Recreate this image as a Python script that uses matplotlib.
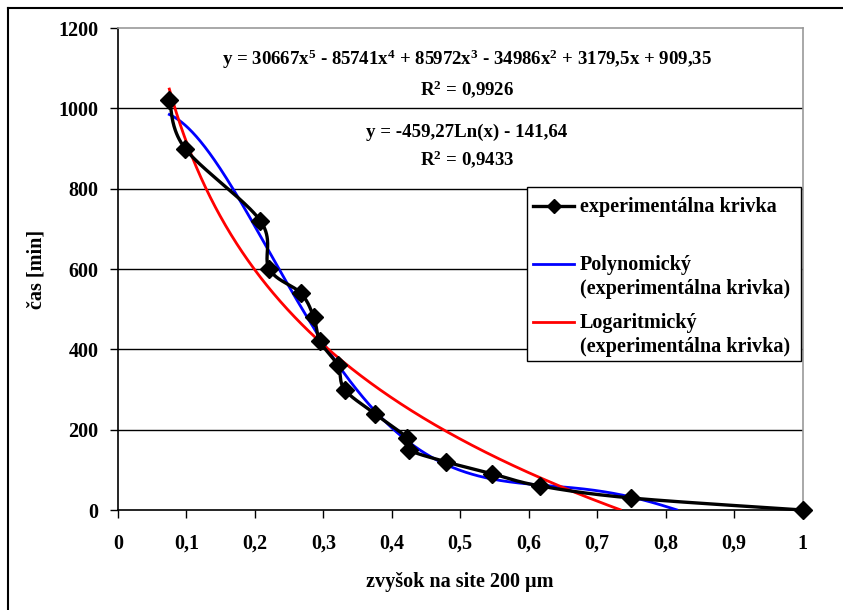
import numpy as np
import matplotlib
matplotlib.use("Agg")
import matplotlib.pyplot as plt
from matplotlib.lines import Line2D
from matplotlib.patches import Rectangle

plt.rcParams['font.family'] = ['Liberation Serif', 'DejaVu Serif']
plt.rcParams['font.weight'] = 'bold'
plt.rcParams['mathtext.fontset'] = 'custom'
plt.rcParams['mathtext.rm'] = 'Liberation Serif:bold'
plt.rcParams['mathtext.bf'] = 'Liberation Serif:bold'
plt.rcParams['mathtext.it'] = 'Liberation Serif:bold'
plt.rcParams['mathtext.default'] = 'bf'

# ---- data ----
zvysok = [0.075, 0.098, 0.208, 0.221, 0.267, 0.286, 0.295, 0.321, 0.331,
          0.375, 0.422, 0.425, 0.479, 0.547, 0.616, 0.749, 1.0]
cas = [1020, 900, 720, 600, 540, 480, 420, 360, 300,
       240, 180, 150, 120, 90, 60, 30, 0]
poly_coef = [30667, -85741, 85972, -34986, 3179.5, 909.35]   # x^5 ... x^0
log_coef = [-459.27, -141.64]                                 # a*ln(x) + b
x_ticks = [0, 0.1, 0.2, 0.3, 0.4, 0.5, 0.6, 0.7, 0.8, 0.9, 1.0]
x_tick_labels = ['0', '0,1', '0,2', '0,3', '0,4', '0,5', '0,6', '0,7', '0,8', '0,9', '1']
y_ticks = [0, 200, 400, 600, 800, 1000, 1200]
legend_labels = ['experimentálna krivka',
                 'Polynomický\n(experimentálna krivka)',
                 'Logaritmický\n(experimentálna krivka)']

W, H = 843, 610
fig = plt.figure(figsize=(W / 100, H / 100), dpi=100)
L, R, T, B = 118, 802.5, 28, 510
ax = fig.add_axes([L / W, 1 - B / H, (R - L) / W, (B - T) / H])
ax.set_xlim(0, 1)
ax.set_ylim(0, 1200)

FS = 14.5
FS_EQ = 13.6

# gridlines
for yt in y_ticks[1:-1]:
    ax.axhline(yt, color='black', lw=1.0, zorder=1)

# trendlines
xs = np.linspace(min(zvysok), max(zvysok), 800)
yp = np.polyval(poly_coef, xs)
yl = log_coef[0] * np.log(xs) + log_coef[1]
ax.plot(xs, np.where(yp >= 0, yp, np.nan), color='#0000FF', lw=2.0, zorder=3)
ax.plot(xs, np.where(yl >= 0, yl, np.nan), color='#FF0000', lw=2.0, zorder=3)

# smoothed experimental curve (Excel-like Bezier smoothing in screen space)
sx = (R - L) / 1.0
sy = (B - T) / 1200.0
P = np.column_stack([np.array(zvysok) * sx, np.array(cas) * sy])
n = len(P)
curve = []
for i in range(n - 1):
    p0 = P[i - 1] if i > 0 else P[i]
    p1 = P[i]
    p2 = P[i + 1]
    p3 = P[i + 2] if i + 2 < n else P[i + 1]
    c1 = p1 + (p2 - p0) / 6.0
    c2 = p2 - (p3 - p1) / 6.0
    t = np.linspace(0, 1, 40)[:, None]
    seg = ((1 - t) ** 3) * p1 + 3 * ((1 - t) ** 2) * t * c1 + 3 * (1 - t) * t ** 2 * c2 + t ** 3 * p2
    curve.append(seg)
curve = np.vstack(curve)
ax.plot(curve[:, 0] / sx, curve[:, 1] / sy, color='black', lw=2.4, zorder=4,
        clip_on=False)
ax.plot(zvysok, cas, linestyle='none', marker='D', markersize=9,
        color='black', zorder=5, clip_on=False)

# axes styling
ax.set_xticks(x_ticks)
ax.set_xticklabels(x_tick_labels)
ax.set_yticks(y_ticks)
ax.tick_params(axis='both', direction='out', length=6, width=1, color='black',
               labelsize=FS)
ax.tick_params(axis='x', pad=11)
ax.tick_params(axis='y', pad=8)
for lab in ax.get_xticklabels() + ax.get_yticklabels():
    lab.set_fontweight('bold')
ax.spines['left'].set_color('black')
ax.spines['bottom'].set_color('black')
ax.spines['top'].set_color('#999999')
ax.spines['right'].set_color('#999999')
for s in ax.spines.values():
    s.set_linewidth(1.2)

ax.set_xlabel('zvyšok na site 200 µm', fontsize=FS, fontweight='bold')
ax.set_ylabel('čas [min]', fontsize=FS, fontweight='bold')
ax.xaxis.set_label_coords(0.5, -(572 - B) / (B - T))
ax.yaxis.set_label_coords(-(L - 46) / (R - L), 0.5)


def ft(x, y, s, fs=FS, **kw):
    fig.text(x / W, 1 - y / H, s, fontsize=fs, fontweight='bold',
             ha=kw.pop('ha', 'center'), va=kw.pop('va', 'center'), **kw)


# equations
ft(467, 59, 'y = 30667x$^{5}$ - 85741x$^{4}$ + 85972x$^{3}$ - 34986x$^{2}$ + 3179,5x + 909,35', FS_EQ)
ft(467, 89, 'R$^{2}$ = 0,9926', FS_EQ)
ft(467, 132, 'y = -459,27Ln(x) - 141,64', FS_EQ)
ft(467, 159, 'R$^{2}$ = 0,9433', FS_EQ)

# legend (drawn manually to mimic Excel layout)
lx0, ly0, lx1, ly1 = 527, 187, 801, 361
fig.add_artist(Rectangle((lx0 / W, 1 - ly1 / H), (lx1 - lx0) / W, (ly1 - ly0) / H,
                         transform=fig.transFigure, facecolor='white',
                         edgecolor='black', lw=1.0, zorder=10))
hx0, hx1, tx = 533, 574, 580
rows = [(206, 'black', True, legend_labels[0]),
        (264, '#0000FF', False, legend_labels[1]),
        (322, '#FF0000', False, legend_labels[2])]
for yy, col, mk, lab in rows:
    fig.add_artist(Line2D([hx0 / W, hx1 / W], [1 - yy / H, 1 - yy / H],
                          transform=fig.transFigure, color=col,
                          lw=2.4 if mk else 2.0, zorder=11))
    if mk:
        fig.add_artist(Line2D([(hx0 + hx1) / 2 / W], [1 - yy / H],
                              transform=fig.transFigure, marker='D',
                              markersize=7, color='black', zorder=12))
    fig.text(tx / W, 1 - (yy - 9) / H, lab, fontsize=FS, fontweight='bold',
             ha='left', va='top', linespacing=1.25, zorder=12)

# outer chart border
fig.add_artist(Line2D([8 / W, 8 / W], [0, 1 - 8 / H], transform=fig.transFigure,
                      color='black', lw=1.5))
fig.add_artist(Line2D([8 / W, 1], [1 - 8 / H, 1 - 8 / H], transform=fig.transFigure,
                      color='black', lw=1.5))

fig.savefig('out.png', dpi=100)
